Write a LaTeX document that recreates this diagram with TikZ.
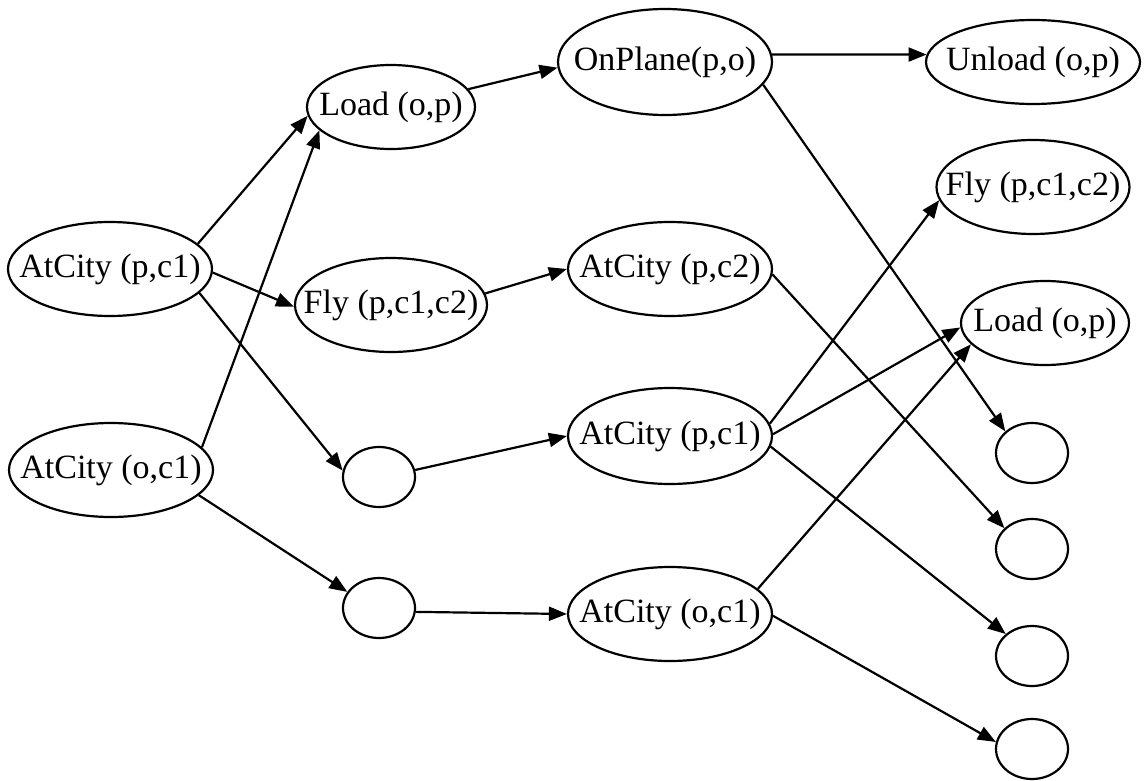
\documentclass[tikz,border=0pt]{standalone}
\usepackage{fontspec}
\setmainfont{Liberation Serif}
\usetikzlibrary{shapes.geometric,arrows.meta}
\newcommand\lbl[1]{\makebox[0pt]{#1}}
\begin{document}
\begin{tikzpicture}[x=1pt,y=-1pt,
  state/.style={ellipse, draw, line width=2.2pt, inner sep=0pt,
                font=\fontsize{34}{38}\selectfont},
  wide/.style={state, minimum width=204, minimum height=94},
  mid/.style={state, minimum width=168, minimum height=84},
  blank/.style={state, minimum width=72, minimum height=60},
  link/.style={line width=2.2pt, -{Triangle[length=18pt,width=14pt]}}]
\useasboundingbox (0,0) rectangle (1148,781);

% first layer
\node[wide] (pc1L) at (110,269) {\lbl{AtCity (p,c1)}};
\node[wide] (oc1L) at (111,470) {\lbl{AtCity (o,c1)}};

% second layer
\node[mid] (loadA) at (391,107) {\lbl{Load (o,p)}};
\node[wide, minimum width=192] (flyA) at (391,305) {\lbl{Fly (p,c1,c2)}};
\node[blank] (e1) at (379,477) {};
\node[blank] (e2) at (379,608) {};

% third layer
\node[wide, minimum width=214, minimum height=106] (onplane) at (665,62) {\lbl{OnPlane(p,o)}};
\node[wide] (pc2) at (670,269) {\lbl{AtCity (p,c2)}};
\node[wide, minimum height=96] (pc1M) at (670,436) {\lbl{AtCity (p,c1)}};
\node[wide] (oc1M) at (670,614) {\lbl{AtCity (o,c1)}};

% fourth layer
\node[mid, minimum width=214] (unload) at (1033,62) {\lbl{Unload (o,p)}};
\node[wide, minimum width=193] (flyB) at (1033,187) {\lbl{Fly (p,c1,c2)}};
\node[mid] (loadB) at (1045,323) {\lbl{Load (o,p)}};
\node[blank] (r1) at (1032,453) {};
\node[blank] (r2) at (1032,549) {};
\node[blank] (r3) at (1032,656) {};
\node[blank] (r4) at (1032,749) {};

% connectors
\draw[link] (pc1L.16) -- (loadA.186);
\draw[link] (oc1L.14) -- (loadA.198);
\draw[link] (pc1L.-2) -- (flyA.181);
\draw[link] (pc1L.-15) -- (e1.170);
\draw[link] (oc1L.-16) -- (e2.153);

\draw[link] (loadA.13) -- (onplane.183);
\draw[link] (flyA.7) -- (pc2.180);
\draw[link] (e1.11) -- (pc1M.180);
\draw[link] (e2.-6) -- (oc1M.180);

\draw[link] (onplane.4) -- (unload.176);
\draw[link] (onplane.-13) -- (r1.141);
\draw[link] (pc2.-3) -- (r2.143);
\draw[link] (pc1M.7) -- (flyB.188);
\draw[link] (pc1M.1) -- (loadB.183);
\draw[link] (pc1M.-6) -- (r3.140);
\draw[link] (oc1M.16) -- (loadB.196);
\draw[link] (oc1M.-1) -- (r4.169);
\end{tikzpicture}
\end{document}
